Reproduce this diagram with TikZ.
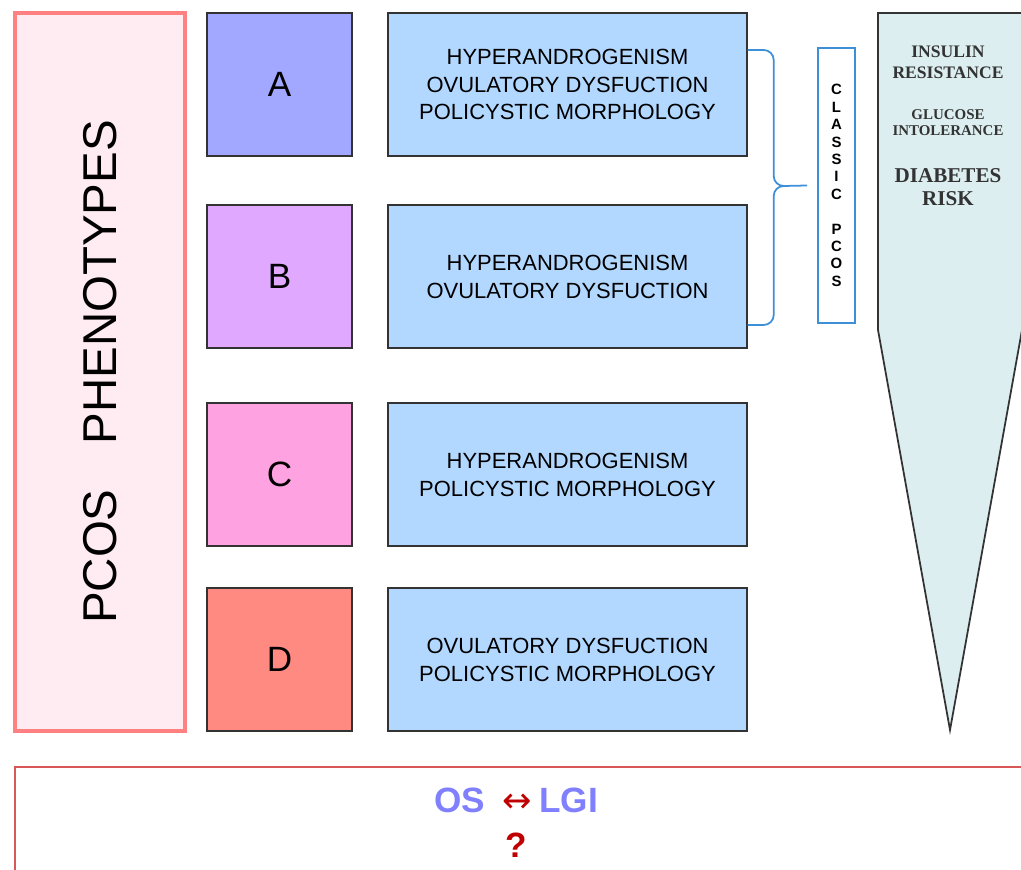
\documentclass[tikz,border=0pt]{standalone}
\usepackage{fontspec}
\setmainfont{Liberation Sans}
\newfontfamily\funnelfont{Liberation Serif}
\newfontfamily\arrowfont{DejaVu Sans}
\usepackage{xcolor}
\usepackage{tikz}
\definecolor{phenored}{HTML}{FF8080}
\definecolor{phenopink}{HTML}{FFECF2}
\definecolor{boxa}{HTML}{A2A8FF}
\definecolor{boxb}{HTML}{E0A8FF}
\definecolor{boxc}{HTML}{FFA2E2}
\definecolor{boxd}{HTML}{FF8A82}
\definecolor{descblue}{HTML}{B2D8FF}
\definecolor{braceblue}{HTML}{3D8FD8}
\definecolor{funnelfill}{HTML}{DCEEF0}
\definecolor{osblue}{HTML}{8080FF}
\definecolor{darkred}{HTML}{C00000}
\definecolor{framered}{HTML}{D85858}
\definecolor{darkgray}{HTML}{333333}

\begin{document}
\begin{tikzpicture}
    % Define styles
    \tikzstyle{letterbox} = [rectangle, minimum width=2.9cm, minimum height=2.86cm, text centered, draw=darkgray, line width=0.8pt, font=\fontsize{20}{24}\selectfont]
    \tikzstyle{descbox} = [rectangle, minimum width=7.18cm, minimum height=2.86cm, align=center, draw=darkgray, line width=0.8pt, fill=descblue, font=\fontsize{12.5}{15.9}\selectfont]
    \tikzstyle{funneltext} = [align=center, text=darkgray, inner sep=0pt]
    \tikzstyle{brace_line} = [draw=braceblue, line width=1pt]
    \useasboundingbox (0,0) rectangle (20.42,17.38);

    % Phenotype label
    \node [rectangle, minimum width=3.4cm, minimum height=14.36cm, draw=phenored, line width=1.8pt, fill=phenopink] (pheno_box) at (2.0,9.94) {};
    \node [rotate=90, font=\fontsize{27}{30}\selectfont] (pheno_label) at (pheno_box.center) {PCOS\hspace{0.9cm}PHENOTYPES};

    % Phenotype boxes
    \node [letterbox, fill=boxa] (box_a) at (5.59,15.69) {A};
    \node [letterbox, fill=boxb] (box_b) at (5.59,11.85) {B};
    \node [letterbox, fill=boxc] (box_c) at (5.59,7.89) {C};
    \node [letterbox, fill=boxd] (box_d) at (5.59,4.19) {D};

    % Criteria boxes
    \node [descbox] (desc_a) at (11.35,15.69) {HYPERANDROGENISM\\OVULATORY DYSFUCTION\\POLICYSTIC MORPHOLOGY};
    \node [descbox] (desc_b) at (11.35,11.85) {HYPERANDROGENISM\\OVULATORY DYSFUCTION};
    \node [descbox] (desc_c) at (11.35,7.89) {HYPERANDROGENISM\\POLICYSTIC MORPHOLOGY};
    \node [descbox] (desc_d) at (11.35,4.19) {OVULATORY DYSFUCTION\\POLICYSTIC MORPHOLOGY};

    % Classic PCOS
    \node [rectangle, minimum width=0.74cm, minimum height=5.5cm, draw=braceblue, line width=1pt, fill=white, align=center, inner sep=0pt, font=\bfseries\fontsize{8.5}{9.9}\selectfont] (classic_box) at (16.73,13.67) {C\\L\\A\\S\\S\\I\\C\\\mbox{}\\P\\C\\O\\S};
    \draw [brace_line] ([yshift=0.69cm]desc_a.east) -- ++(0.32,0) arc[start angle=90, end angle=0, radius=0.2] -- ++(0,-2.32) arc[start angle=180, end angle=270, radius=0.2] -- ([xshift=-0.2cm]classic_box.west);
    \draw [brace_line] ([yshift=-0.97cm]desc_b.east) -- ++(0.32,0) arc[start angle=-90, end angle=0, radius=0.2] -- ++(0,2.38) arc[start angle=180, end angle=90, radius=0.2];

    % Risk funnel
    \draw [draw=darkgray, line width=1pt, fill=funnelfill] (17.56,17.12) -- (17.56,10.78) -- (19.0,2.78) -- (20.44,10.78) -- (20.44,17.12) -- cycle;
    \node [funneltext, font=\funnelfont\bfseries\fontsize{10}{11.9}\selectfont] (insulin_text) at (18.96,16.13) {INSULIN\\RESISTANCE};
    \node [funneltext, font=\funnelfont\bfseries\fontsize{8.5}{9}\selectfont] (glucose_text) at (18.96,14.92) {GLUCOSE\\INTOLERANCE};
    \node [funneltext, font=\funnelfont\bfseries\fontsize{12}{13}\selectfont] (diabetes_text) at (18.96,13.63) {DIABETES\\RISK};

    % OS / LGI
    \draw [draw=framered, line width=1pt] (0.3,-0.5) rectangle (20.9,2.04);
    \node [text=osblue, font=\bfseries\fontsize{20}{24}\selectfont] (os_lgi) at (10.32,1.38) {OS\hspace{0.35cm}{\arrowfont\mdseries\color{darkred}↔}\hspace{0.15cm}LGI};
    \node [text=darkred, font=\bfseries\fontsize{20}{24}\selectfont] (question) at (10.32,0.48) {?};
\end{tikzpicture}
\end{document}
